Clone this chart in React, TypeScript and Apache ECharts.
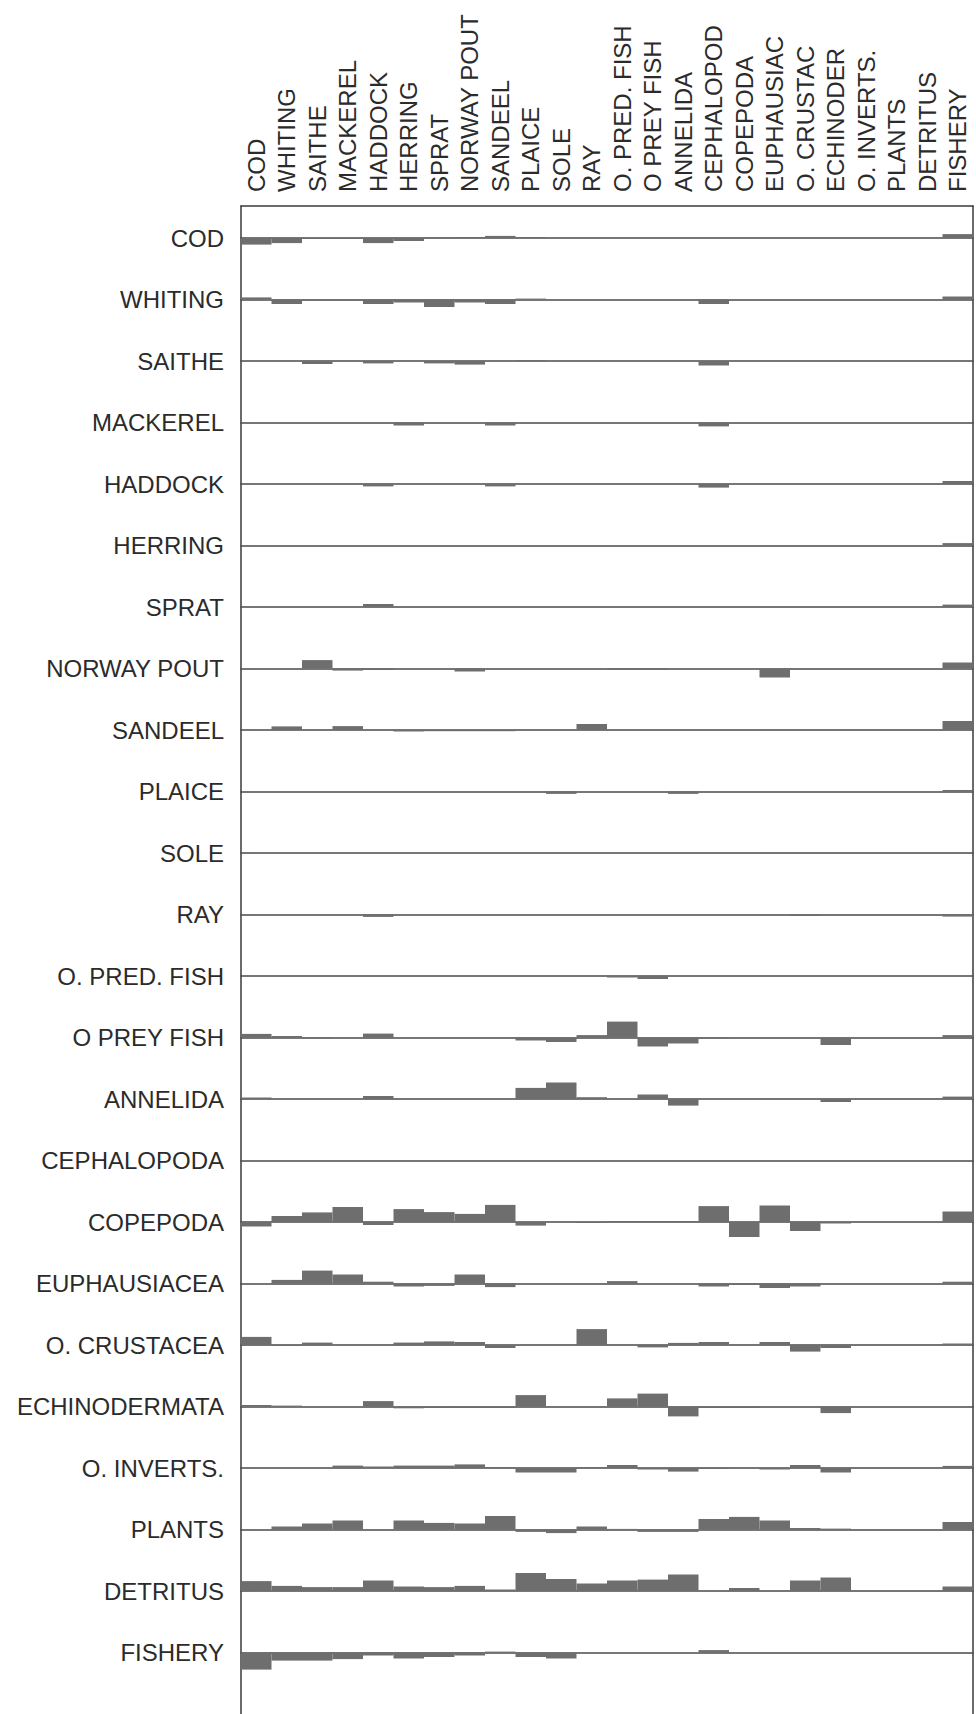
import React, { useEffect, useRef } from "react";
import * as echarts from "echarts";

// Impacted groups (columns, top labels)
const impactedGroups = [
  "COD", "WHITING", "SAITHE", "MACKEREL", "HADDOCK", "HERRING", "SPRAT", "NORWAY POUT",
  "SANDEEL", "PLAICE", "SOLE", "RAY", "O. PRED. FISH", "O PREY FISH", "ANNELIDA", "CEPHALOPOD",
  "COPEPODA", "EUPHAUSIAC", "O. CRUSTAC", "ECHINODER", "O. INVERTS.", "PLANTS", "DETRITUS", "FISHERY",
];

// Impacting groups (rows, left labels)
const impactingGroups = [
  "COD", "WHITING", "SAITHE", "MACKEREL", "HADDOCK", "HERRING", "SPRAT", "NORWAY POUT",
  "SANDEEL", "PLAICE", "SOLE", "RAY", "O. PRED. FISH", "O PREY FISH", "ANNELIDA", "CEPHALOPODA",
  "COPEPODA", "EUPHAUSIACEA", "O. CRUSTACEA", "ECHINODERMATA", "O. INVERTS.", "PLANTS", "DETRITUS", "FISHERY",
];

// Mixed trophic impact of each row group on each column group
const codImpact = [-0.22, -0.17, -0.03, -0.03, -0.17, -0.1, 0.02, 0.03, 0.07, 0.03, 0, 0, 0, 0, 0, 0, 0, 0, 0, 0, 0, 0, 0, 0.13];
const whitingImpact = [0.07, -0.15, -0.03, -0.03, -0.15, -0.1, -0.25, -0.1, -0.15, 0.03, 0, 0, 0, 0, 0, -0.15, 0, 0, 0, 0, 0, 0, 0, 0.1];
const saitheImpact = [0, 0, -0.1, 0, -0.08, 0, -0.08, -0.12, 0, 0.03, 0, 0, 0, 0, 0, -0.15, 0, 0, 0, 0, 0, 0, 0, 0];
const mackerelImpact = [0, 0, 0, 0, 0, -0.1, 0, 0, -0.1, 0, 0, 0, 0, 0, 0, -0.13, 0, 0, 0, 0, 0, 0, 0, 0];
const haddockImpact = [0, 0, 0, 0, -0.08, 0, 0, 0, -0.08, 0, 0, 0, 0, 0, 0, -0.12, 0, 0, 0, 0, 0, 0, 0, 0.1];
const herringImpact = [0, 0, 0, 0, 0, 0, 0, 0, 0, 0, 0, 0, 0, 0, 0, 0, 0, 0, 0, 0, 0, 0, 0, 0.08];
const spratImpact = [0, 0, 0, 0, 0.1, 0, 0, 0, 0, 0, 0, 0, 0, 0, 0, 0, 0, 0, 0, 0, 0, 0, 0, 0.08];
const norwayPoutImpact = [0, 0, 0.28, -0.07, -0.05, 0, 0, -0.1, 0, 0, 0, 0, -0.04, -0.04, 0, 0, 0, -0.3, 0, 0, 0, 0, 0, 0.2];
const sandeelImpact = [0, 0.12, 0, 0.13, 0, -0.05, -0.04, -0.04, -0.04, 0, 0, 0.2, 0, 0, 0, 0, 0, 0, 0, 0, 0, 0, 0, 0.3];
const plaiceImpact = [0, 0, 0, 0, 0, 0, 0, 0, 0, 0, -0.08, 0, 0, 0, -0.08, 0, 0, 0, 0, 0, 0, 0, 0, 0.05];
const soleImpact = [0, 0, 0, 0, 0, 0, 0, 0, 0, 0, 0, 0, 0, 0, 0, 0, 0, 0, 0, 0, 0, 0, 0, 0];
const rayImpact = [0, 0, 0, 0, -0.08, 0, 0, 0, 0, 0, 0, 0, 0, 0, 0, 0, 0, 0, -0.05, 0, 0, 0, 0, -0.07];
const oPredFishImpact = [0, 0, 0, 0, 0, 0, 0, 0, 0, 0, 0, 0, -0.05, -0.1, 0, 0, 0, 0, 0, 0, 0, 0, 0, 0];
const oPreyFishImpact = [0.12, 0.05, -0.03, 0, 0.13, 0, 0, 0, 0, -0.1, -0.15, 0.08, 0.53, -0.3, -0.2, -0.03, 0, 0, 0, -0.25, 0, 0, 0, 0.08];
const annelidaImpact = [0.05, 0, 0, 0, 0.1, 0, 0, 0, 0, 0.37, 0.55, 0.06, 0, 0.15, -0.22, 0, 0, 0, 0, -0.1, 0, 0, 0, 0.08];
const cephalopodaImpact = [0, 0, 0, 0, 0, 0, 0, 0, 0, 0, 0, 0, 0, 0, 0, 0, 0, 0, 0, 0, 0, 0, 0, 0];
const copepodaImpact = [-0.15, 0.2, 0.32, 0.5, -0.1, 0.43, 0.33, 0.27, 0.57, -0.12, 0, -0.03, 0.03, 0.03, 0.03, 0.53, -0.5, 0.55, -0.3, -0.05, 0, 0, 0, 0.35];
const euphausiaceaImpact = [0, 0.12, 0.43, 0.3, 0.06, -0.1, -0.08, 0.3, -0.12, 0, 0, 0, 0.08, 0, 0, -0.1, -0.05, -0.15, -0.1, 0, 0, 0, 0, 0.06];
const oCrustaceaImpact = [0.27, -0.03, 0.08, 0, 0, 0.08, 0.12, 0.1, -0.1, 0, 0, 0.53, 0, -0.08, 0.07, 0.1, 0, 0.1, -0.22, -0.1, 0, 0, 0, 0.05];
const echinodermataImpact = [0.05, 0.03, 0, 0, 0.18, -0.06, -0.05, -0.05, -0.05, 0.38, 0, 0, 0.27, 0.43, -0.33, -0.05, -0.05, 0, 0, -0.22, 0, 0, 0, 0];
const oInvertsImpact = [0, 0, 0, 0.08, 0.05, 0.08, 0.08, 0.12, 0.03, -0.15, -0.15, 0.02, 0.1, -0.05, -0.12, -0.03, 0, -0.05, 0.1, -0.15, 0, 0, 0, 0.07];
const plantsImpact = [0, 0.1, 0.2, 0.3, 0, 0.3, 0.22, 0.2, 0.45, -0.08, -0.12, 0.1, 0.02, -0.08, -0.08, 0.35, 0.42, 0.3, 0.05, 0.03, 0, 0, 0, 0.25];
const detritusImpact = [0.33, 0.17, 0.13, 0.13, 0.35, 0.15, 0.13, 0.17, 0.05, 0.6, 0.4, 0.25, 0.35, 0.38, 0.55, 0, 0.1, 0, 0.35, 0.45, 0, 0, 0, 0.15];
const fisheryImpact = [-0.57, -0.27, -0.27, -0.22, -0.1, -0.2, -0.15, -0.1, 0.03, -0.15, -0.2, 0, 0, 0, 0, 0.08, 0, 0, 0, 0, 0, 0, 0, 0];

const impactRows = [
  codImpact, whitingImpact, saitheImpact, mackerelImpact, haddockImpact, herringImpact,
  spratImpact, norwayPoutImpact, sandeelImpact, plaiceImpact, soleImpact, rayImpact,
  oPredFishImpact, oPreyFishImpact, annelidaImpact, cephalopodaImpact, copepodaImpact,
  euphausiaceaImpact, oCrustaceaImpact, echinodermataImpact, oInvertsImpact, plantsImpact,
  detritusImpact, fisheryImpact,
];

const FONT = "'Liberation Sans', Arial, Helvetica, sans-serif";
const TEXT = "#2b2b2b";
const LINE = "#3a3a3a";
const BAR = "#6e6e6e";

const PLOT_LEFT = 241;
const PLOT_RIGHT = 3;
const PLOT_TOP = 206;
const FIRST_ROW = 238;
const ROW_STEP = 61.5;
const ROW_HALF = 30;

export default function App() {
  const ref = useRef<HTMLDivElement>(null);

  useEffect(() => {
    if (!ref.current) return;
    const chart = echarts.init(ref.current, null, { renderer: "svg" });

    const grids: any[] = [
      { left: PLOT_LEFT, right: PLOT_RIGHT, top: PLOT_TOP, bottom: 0, containLabel: false },
    ];
    const xAxes: any[] = [
      {
        type: "category",
        gridIndex: 0,
        data: impactedGroups,
        position: "top",
        boundaryGap: true,
        axisLine: { show: true, onZero: false, lineStyle: { color: LINE, width: 1.5 } },
        axisTick: { show: false },
        splitLine: { show: false },
        axisLabel: {
          interval: 0,
          rotate: -90,
          margin: 14,
          fontSize: 24,
          fontFamily: FONT,
          color: TEXT,
        },
      },
    ];
    const yAxes: any[] = [
      {
        type: "value",
        gridIndex: 0,
        position: "left",
        min: 0,
        max: 1,
        axisLine: { show: true, lineStyle: { color: LINE, width: 1.5 } },
        axisTick: { show: false },
        axisLabel: { show: false },
        splitLine: { show: false },
      },
      {
        type: "value",
        gridIndex: 0,
        position: "right",
        min: 0,
        max: 1,
        axisLine: { show: true, lineStyle: { color: LINE, width: 1.5 } },
        axisTick: { show: false },
        axisLabel: { show: false },
        splitLine: { show: false },
      },
    ];
    const series: any[] = [];

    impactingGroups.forEach((name, i) => {
      const g = i + 1;
      const center = FIRST_ROW + ROW_STEP * i;
      grids.push({
        left: PLOT_LEFT,
        right: PLOT_RIGHT,
        top: center - ROW_HALF,
        height: ROW_HALF * 2,
        containLabel: false,
      });
      xAxes.push({
        type: "category",
        gridIndex: g,
        data: impactedGroups,
        boundaryGap: true,
        axisLine: { show: true, onZero: true, lineStyle: { color: "#4a4a4a", width: 1.6 } },
        axisTick: { show: false },
        axisLabel: { show: false },
        splitLine: { show: false },
      });
      yAxes.push({
        type: "value",
        gridIndex: g,
        min: -1,
        max: 1,
        interval: 1,
        axisLine: { show: false },
        axisTick: { show: false },
        splitLine: { show: false },
        axisLabel: {
          show: true,
          margin: 17,
          fontSize: 24,
          fontFamily: FONT,
          color: TEXT,
          formatter: (v: number) => (v === 0 ? name : ""),
        },
      });
      series.push({
        type: "bar",
        name,
        xAxisIndex: g,
        yAxisIndex: g + 1,
        data: impactRows[i],
        barWidth: "100%",
        barGap: "0%",
        barCategoryGap: "0%",
        itemStyle: { color: BAR },
        silent: true,
      });
    });

    chart.setOption({
      animation: false,
      backgroundColor: "#ffffff",
      textStyle: { fontFamily: FONT },
      grid: grids,
      xAxis: xAxes,
      yAxis: yAxes,
      series,
    });

    return () => chart.dispose();
  }, []);

  return (
    <div
      ref={ref}
      style={{ position: "fixed", left: 0, top: 0, width: 976, height: 1714, background: "#fff" }}
    />
  );
}
